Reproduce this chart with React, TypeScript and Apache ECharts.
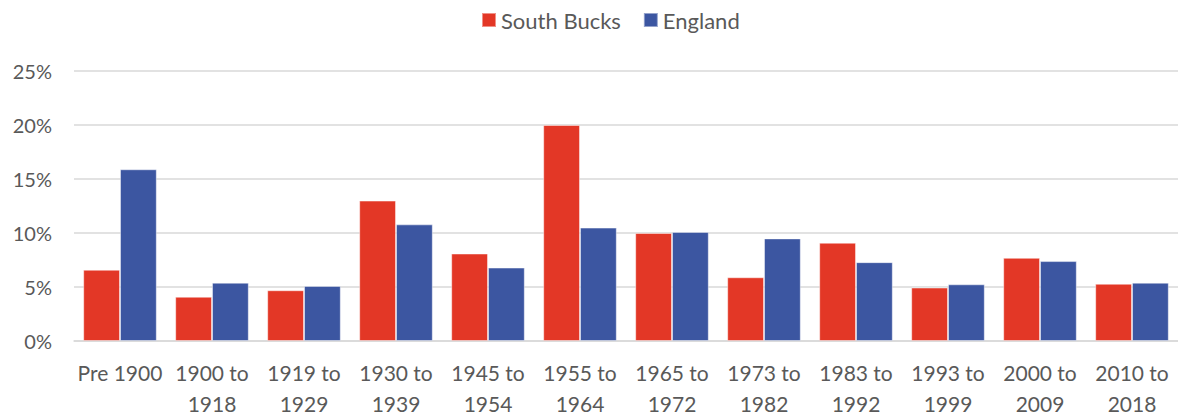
import React, { useEffect, useRef } from "react";
import * as echarts from "echarts";

const categories = [
  "Pre 1900",
  "1900 to\n1918",
  "1919 to\n1929",
  "1930 to\n1939",
  "1945 to\n1954",
  "1955 to\n1964",
  "1965 to\n1972",
  "1973 to\n1982",
  "1983 to\n1992",
  "1993 to\n1999",
  "2000 to\n2009",
  "2010 to\n2018",
];
const southBucks = [6.6, 4.1, 4.7, 13.0, 8.1, 20.0, 10.0, 5.9, 9.1, 4.95, 7.7, 5.3];
const england = [15.9, 5.4, 5.1, 10.8, 6.8, 10.5, 10.1, 9.5, 7.3, 5.25, 7.4, 5.4];
const yTicks = { min: 0, max: 25, interval: 5 };

const FONT = "Lato, 'Open Sans', sans-serif";
const TEXT = "#595959";

export default function App() {
  const ref = useRef<HTMLDivElement>(null);
  useEffect(() => {
    document.body.style.margin = "0";
    const chart = echarts.init(ref.current!, null, { renderer: "svg" });
    chart.setOption({
      animation: false,
      textStyle: { fontFamily: FONT, color: TEXT },
      legend: {
        left: 476,
        top: 4,
        itemWidth: 14,
        itemHeight: 14,
        itemGap: 22,
        icon: "rect",
        textStyle: { fontFamily: FONT, fontSize: 22, color: TEXT },
        data: ["South Bucks", "England"],
      },
      grid: { left: 74, right: 0, top: 71, bottom: 73, containLabel: false },
      xAxis: {
        type: "category",
        data: categories,
        axisTick: { show: false },
        axisLine: { lineStyle: { color: "#d9d9d9", width: 1.5 } },
        axisLabel: {
          fontFamily: FONT,
          fontSize: 21,
          color: TEXT,
          lineHeight: 31,
          margin: 16,
          interval: 0,
        },
      },
      yAxis: {
        type: "value",
        min: yTicks.min,
        max: yTicks.max,
        interval: yTicks.interval,
        axisLine: { show: false },
        axisTick: { show: false },
        splitLine: { lineStyle: { color: "#d9d9d9", width: 1.5 } },
        axisLabel: {
          fontFamily: FONT,
          fontSize: 20,
          color: TEXT,
          margin: 22,
          formatter: "{value}%",
        },
      },
      series: [
        {
          name: "South Bucks",
          type: "bar",
          data: southBucks,
          barGap: "0%",
          barCategoryGap: "20%",
          itemStyle: { color: "#E33726", borderColor: "rgba(255,255,255,0.45)", borderWidth: 1 },
        },
        {
          name: "England",
          type: "bar",
          data: england,
          barGap: "0%",
          barCategoryGap: "20%",
          itemStyle: { color: "#3C56A1", borderColor: "rgba(255,255,255,0.45)", borderWidth: 1 },
        },
      ],
    });
    return () => chart.dispose();
  }, []);
  return <div ref={ref} style={{ width: 1178, height: 419 }} />;
}
